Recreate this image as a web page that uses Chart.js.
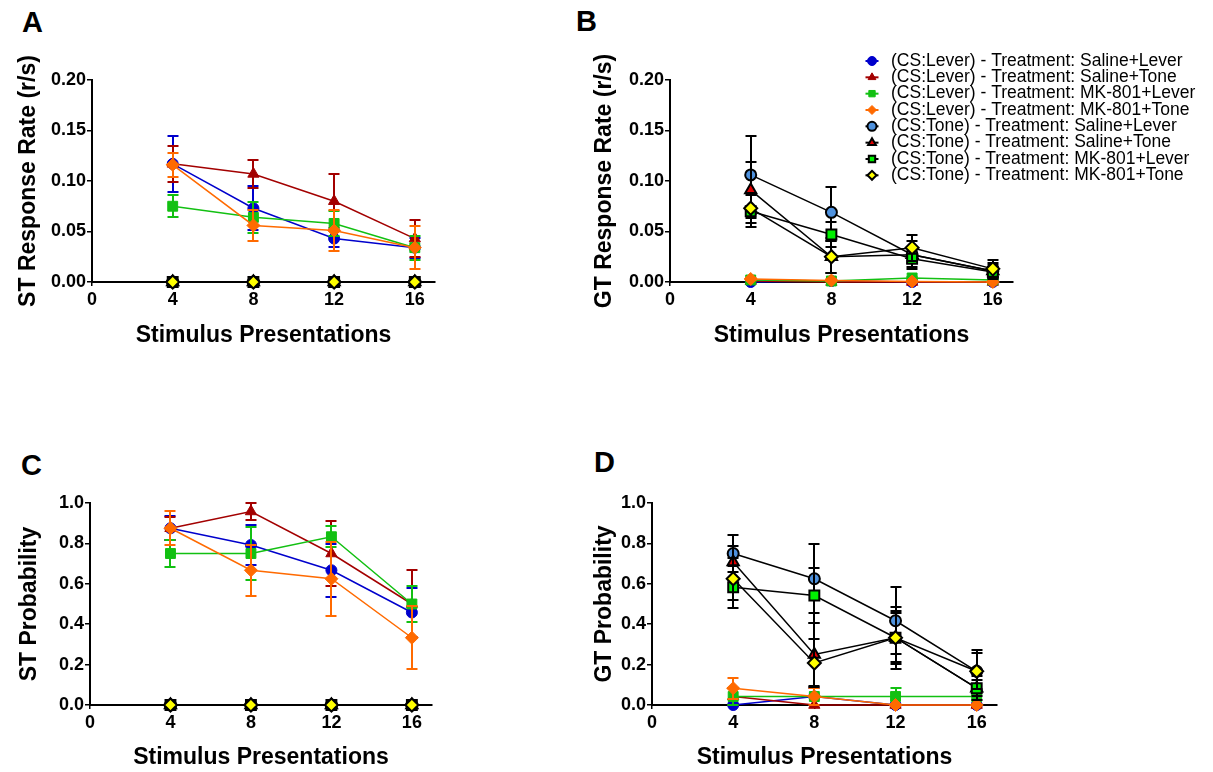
<!DOCTYPE html>
<html><head><meta charset="utf-8">
<script src="https://cdn.jsdelivr.net/npm/chart.js@4/dist/chart.umd.min.js"></script>
<style>
html,body{margin:0;padding:0;background:#fff;}
body{width:1213px;height:772px;position:relative;overflow:hidden;font-family:"Liberation Sans",Arial,sans-serif;}
.c{position:absolute;}
.lbl{position:absolute;font-weight:bold;font-size:29px;line-height:29px;color:#000;}
</style></head><body>
<div class="lbl" style="left:22px;top:8px">A</div>
<div class="lbl" style="left:576px;top:7px">B</div>
<div class="lbl" style="left:21px;top:451px">C</div>
<div class="lbl" style="left:594px;top:448px">D</div>
<canvas class="c" id="cA" width="460" height="320" style="left:0;top:40px"></canvas>
<canvas class="c" id="cB" width="633" height="320" style="left:580px;top:40px"></canvas>
<canvas class="c" id="cC" width="460" height="312" style="left:0;top:460px"></canvas>
<canvas class="c" id="cD" width="653" height="312" style="left:560px;top:460px"></canvas>
<script>
// ---------------- DATA ----------------
const stimulusPresentations = [4, 8, 12, 16];
const xTicks = [0, 4, 8, 12, 16];
const seriesLabels = [
  "(CS:Lever) - Treatment: Saline+Lever",
  "(CS:Lever) - Treatment: Saline+Tone",
  "(CS:Lever) - Treatment: MK-801+Lever",
  "(CS:Lever) - Treatment: MK-801+Tone",
  "(CS:Tone) - Treatment: Saline+Lever",
  "(CS:Tone) - Treatment: Saline+Tone",
  "(CS:Tone) - Treatment: MK-801+Lever",
  "(CS:Tone) - Treatment: MK-801+Tone"
];
// Panel A: ST response rate (r/s)
const stRateMeans = [
  [0.117, 0.073, 0.043, 0.034],
  [0.117, 0.107, 0.080, 0.043],
  [0.075, 0.064, 0.058, 0.034],
  [0.116, 0.056, 0.051, 0.034],
  [0, 0, 0, 0],
  [0, 0, 0, 0],
  [0, 0, 0, 0],
  [0, 0, 0, 0]
];
const stRateSem = [
  [0.028, 0.022, 0.008, 0.010],
  [0.018, 0.014, 0.027, 0.018],
  [0.011, 0.015, 0.012, 0.012],
  [0.012, 0.015, 0.020, 0.021],
  [0, 0, 0, 0],
  [0, 0, 0, 0],
  [0, 0, 0, 0],
  [0, 0, 0, 0]
];
// Panel B: GT response rate (r/s)
const gtRateMeans = [
  [0.000, 0.001, 0.000, 0.000],
  [0.001, 0.000, 0.000, 0.000],
  [0.002, 0.001, 0.004, 0.002],
  [0.003, 0.0015, 0.0005, 0.000],
  [0.106, 0.069, 0.027, 0.011],
  [0.091, 0.025, 0.027, 0.011],
  [0.070, 0.047, 0.023, 0.010],
  [0.073, 0.025, 0.034, 0.013]
];
const gtRateSem = [
  [0, 0, 0, 0],
  [0, 0, 0, 0],
  [0.001, 0.001, 0.001, 0.001],
  [0.001, 0.001, 0, 0],
  [0.039, 0.025, 0.014, 0.008],
  [0.028, 0.016, 0.008, 0.006],
  [0.016, 0.012, 0.008, 0.005],
  [0.015, 0.016, 0.013, 0.009]
];
// Panel C: ST probability
const stProbMeans = [
  [0.875, 0.792, 0.667, 0.458],
  [0.875, 0.958, 0.750, 0.500],
  [0.750, 0.750, 0.833, 0.500],
  [0.875, 0.667, 0.625, 0.333],
  [0, 0, 0, 0],
  [0, 0, 0, 0],
  [0, 0, 0, 0],
  [0, 0, 0, 0]
];
const stProbSem = [
  [0.060, 0.100, 0.130, 0.120],
  [0.057, 0.042, 0.160, 0.167],
  [0.067, 0.133, 0.053, 0.090],
  [0.085, 0.125, 0.183, 0.155],
  [0, 0, 0, 0],
  [0, 0, 0, 0],
  [0, 0, 0, 0],
  [0, 0, 0, 0]
];
// Panel D: GT probability
const gtProbMeans = [
  [0.000, 0.042, 0.000, 0.000],
  [0.042, 0.000, 0.000, 0.000],
  [0.042, 0.042, 0.042, 0.042],
  [0.083, 0.042, 0.000, 0.000],
  [0.750, 0.625, 0.417, 0.167],
  [0.708, 0.250, 0.333, 0.083],
  [0.583, 0.542, 0.333, 0.083],
  [0.625, 0.208, 0.333, 0.167]
];
const gtProbSem = [
  [0, 0.042, 0, 0],
  [0.042, 0, 0, 0],
  [0.040, 0, 0.040, 0],
  [0.052, 0.042, 0, 0],
  [0.092, 0.170, 0.166, 0.105],
  [0.080, 0.155, 0.130, 0.060],
  [0.104, 0.135, 0.154, 0.040],
  [0.105, 0.120, 0.120, 0.090]
];
const yTicksRate = [0, 0.05, 0.10, 0.15, 0.20];
const yTicksProb = [0, 0.2, 0.4, 0.6, 0.8, 1.0];

// ---------------- STYLES ----------------
const FONT = '"Liberation Sans", Arial, sans-serif';
const seriesStyles = [
  {line:'#0000cc', fill:'#0000cc', edge:'#0000cc', shape:'circle',   r:5.5, bw:1},
  {line:'#a30000', fill:'#a30000', edge:'#a30000', shape:'triangle', r:6.5, bw:1},
  {line:'#12c012', fill:'#12c012', edge:'#12c012', shape:'rect',     r:7,   bw:1},
  {line:'#ff6a00', fill:'#ff6a00', edge:'#ff6a00', shape:'rectRot',  r:6.5, bw:1},
  {line:'#000000', fill:'#4f92de', edge:'#000000', shape:'circle',   r:5.5, bw:2},
  {line:'#000000', fill:'#e00000', edge:'#000000', shape:'triangle', r:6.5, bw:2},
  {line:'#000000', fill:'#00f000', edge:'#000000', shape:'rect',     r:7,   bw:2},
  {line:'#000000', fill:'#ffff00', edge:'#000000', shape:'rectRot',  r:6.5, bw:2}
];

const errorBarPlugin = {
  id: 'errbars',
  beforeDatasetDraw(chart, args) {
    const ds = chart.data.datasets[args.index];
    if (!ds.errors) return;
    const ys = chart.scales.y;
    const ctx = chart.ctx;
    ctx.save();
    ctx.strokeStyle = ds.errColor;
    ctx.lineWidth = 2;
    args.meta.data.forEach((pt, i) => {
      const e = ds.errors[i];
      if (!e) return;
      const v = ds.data[i].y;
      const top = Math.round(ys.getPixelForValue(v + e));
      const bot = Math.round(ys.getPixelForValue(v - e));
      const x = Math.round(pt.x);
      ctx.beginPath();
      ctx.moveTo(x, top); ctx.lineTo(x, bot);
      ctx.moveTo(x - 5.5, top); ctx.lineTo(x + 5.5, top);
      ctx.moveTo(x - 5.5, bot); ctx.lineTo(x + 5.5, bot);
      ctx.stroke();
    });
    ctx.restore();
  }
};

const legendPlugin = {
  id: 'sideLegend',
  afterDraw(chart, args, opts) {
    if (!opts || !opts.show) return;
    const ctx = chart.ctx;
    ctx.save();
    chart.data.datasets.forEach((ds, i) => {
      const y = opts.y0 + i * opts.dy;
      ctx.strokeStyle = ds.borderColor;
      ctx.lineWidth = 2;
      ctx.beginPath(); ctx.moveTo(opts.x - 6.5, y); ctx.lineTo(opts.x + 6.5, y); ctx.stroke();
      ctx.fillStyle = ds.pointBackgroundColor;
      ctx.strokeStyle = ds.pointBorderColor;
      ctx.lineWidth = ds.pointBorderWidth;
      Chart.helpers.drawPoint(ctx, {pointStyle: ds.pointStyle, radius: 4.5, borderWidth: ds.pointBorderWidth, rotation: 0}, opts.x, y);
      ctx.fillStyle = '#000';
      ctx.font = '17.5px ' + FONT;
      ctx.textBaseline = 'middle';
      ctx.textAlign = 'left';
      ctx.fillText(ds.label, opts.textX, y);
    });
    ctx.restore();
  }
};

function makePanel(id, means, sems, yTicks, decimals, yTitle, cfg) {
  const datasets = means.map((m, i) => {
    const s = seriesStyles[i];
    return {
      label: seriesLabels[i],
      data: stimulusPresentations.map((x, j) => ({x: x, y: m[j]})),
      errors: sems[i],
      errColor: s.line,
      borderColor: s.line,
      borderWidth: 1.5,
      pointStyle: s.shape,
      pointRadius: s.r,
      pointBackgroundColor: s.fill,
      pointBorderColor: s.edge,
      pointBorderWidth: s.bw,
      tension: 0,
      clip: false,
      order: 7 - i
    };
  });
  const yMax = yTicks[yTicks.length - 1];
  return new Chart(document.getElementById(id), {
    type: 'line',
    data: {datasets},
    plugins: [errorBarPlugin, legendPlugin],
    options: {
      responsive: false,
      animation: false,
      events: [],
      layout: {padding: {top: cfg.padTop, right: cfg.padRight, left: 0, bottom: 0}},
      plugins: {
        legend: {display: false},
        tooltip: {enabled: false},
        sideLegend: cfg.legend || {show: false}
      },
      scales: {
        x: {
          type: 'linear', min: 0, max: 17,
          afterBuildTicks(s) { s.ticks = xTicks.map(v => ({value: v})); },
          afterFit(s) { s.height = cfg.xH; },
          ticks: {color: '#000', font: {family: FONT, size: 18, weight: 'bold'}, padding: 3, maxRotation: 0, autoSkip: false},
          grid: {drawOnChartArea: false, drawTicks: true, tickLength: 4, color: '#000', lineWidth: 1.5},
          border: {display: true, color: '#000', width: 2},
          title: {display: true, text: 'Stimulus Presentations', color: '#000',
                  font: {family: FONT, size: 23, weight: 'bold'}, padding: {top: 0, bottom: cfg.xTitlePad}}
        },
        y: {
          type: 'linear', min: 0, max: yMax,
          afterBuildTicks(s) { s.ticks = yTicks.map(v => ({value: v})); },
          afterFit(s) { s.width = cfg.yW; },
          ticks: {color: '#000', font: {family: FONT, size: 18, weight: 'bold'}, padding: 1,
                  callback: v => Number(v).toFixed(decimals)},
          grid: {drawOnChartArea: false, drawTicks: true, tickLength: 5, color: '#000', lineWidth: 1.5},
          border: {display: true, color: '#000', width: 2},
          title: {display: true, text: yTitle, color: '#000',
                  font: {family: FONT, size: 23, weight: 'bold'}, padding: {top: cfg.yTitlePad, bottom: 0}}
        }
      }
    }
  });
}

makePanel('cA', stRateMeans, stRateSem, yTicksRate, 2, 'ST Response Rate (r/s)',
  {padTop: 40, padRight: 25, xH: 78, yW: 92, yTitlePad: 15, xTitlePad: 11});
makePanel('cB', gtRateMeans, gtRateSem, yTicksRate, 2, 'GT Response Rate (r/s)',
  {padTop: 40, padRight: 200, xH: 78, yW: 90, yTitlePad: 11, xTitlePad: 11,
   legend: {show: true, x: 292, y0: 21, dy: 16.33, textX: 311}});
makePanel('cC', stProbMeans, stProbSem, yTicksProb, 1, 'ST Probability',
  {padTop: 43, padRight: 28, xH: 67, yW: 90, yTitlePad: 16, xTitlePad: 1});
makePanel('cD', gtProbMeans, gtProbSem, yTicksProb, 1, 'GT Probability',
  {padTop: 43, padRight: 216, xH: 67, yW: 92, yTitlePad: 31, xTitlePad: 1});
</script>
</body></html>
